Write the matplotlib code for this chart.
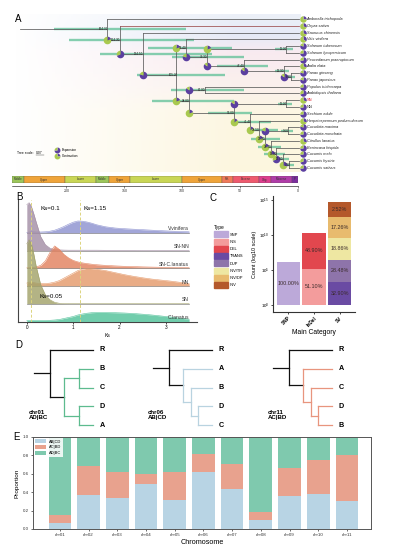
#!/usr/bin/env python
# -*- coding: utf-8 -*-
import sys

import numpy as np
import matplotlib
matplotlib.use('Agg')
import matplotlib.pyplot as plt
from matplotlib.patches import Patch
from matplotlib.ticker import NullLocator

plt.rcParams['font.family'] = ['Liberation Sans', 'DejaVu Sans']
plt.rcParams['axes.linewidth'] = 0.6

# ---------------------------------------------------------------- A: tree
tip_names = ['Amborella trichopoda', 'Oryza sativa', 'Saururus chinensis',
             'Vitis vinifera', 'Solanum tuberosum', 'Solanum lycopersicum',
             'Peucedanum praeruptorum', 'Aralia elata', 'Panax ginseng',
             'Panax japonicus', 'Populus trichocarpa', 'Arabidopsis thaliana',
             'SN', 'NN', 'Sechium edule', 'Herpetospermum pedunculosum',
             'Cucurbita maxima', 'Cucurbita moschata', 'Citrullus lanatus',
             'Benincasa hispida', 'Cucumis melo', 'Cucumis hystrix',
             'Cucumis sativus']
tip_expansion = [0.25, 0.3, 0.3, 0.35, 0.8, 0.75, 0.75, 0.3, 0.8, 0.8, 0.75,
                 0.7, 0.3, 0.75, 0.75, 0.3, 0.8, 0.75, 0.3, 0.75, 0.75, 0.7,
                 0.75]

# clades as (node, age in Mya, children)
panax = ('Pan', 6.9, ['Panax ginseng', 'Panax japonicus'])
apiales = ('A2', 47.4, ['Peucedanum praeruptorum',
                        ('ArPan', 12.9, ['Aralia elata', panax])])
asterids = ('A1', 79.3, [('Sol', 11.2, ['Solanum tuberosum',
                                        'Solanum lycopersicum']), apiales])
cucumis = ('C7', 13.8, ['Cucumis melo',
                        ('HS', 7.8, ['Cucumis hystrix', 'Cucumis sativus'])])
benincaseae = ('C5', 24.1, ['Citrullus lanatus',
                            ('C6', 19.0, ['Benincasa hispida', cucumis])])
core_cuc = ('C4', 29.3, [('Cuc', 9.5, ['Cucurbita maxima',
                                       'Cucurbita moschata']), benincaseae])
sicyoeae = ('C2', 41.4, ['Sechium edule',
                         ('C3', 34.5, ['Herpetospermum pedunculosum', core_cuc])])
cucurbits = ('C1', 56.0, [('SNNN', 11.2, ['SN', 'NN']), sicyoeae])
rosids = ('N6', 94.8, [('PopAra', 81.0, ['Populus trichocarpa',
                                         'Arabidopsis thaliana']), cucurbits])
eudicots = ('N4', 105.2, [('N5', 97.4, ['Vitis vinifera', asterids]), rosids])
species_tree = ('N1', 164.7, ['Amborella trichopoda',
                              ('N2', 154.3, ['Oryza sativa',
                                             ('N3', 134.5, ['Saururus chinensis',
                                                            eudicots])])])

node_hpd = {'N1': (211, 97), 'N2': (198, 90), 'N3': (171, 75), 'N4': (139, 63),
            'N5': (130, 57), 'A1': (109, 47), 'Sol': (20, 5), 'A2': (70, 26),
            'ArPan': (20, 8), 'Pan': (12, 3), 'N6': (126, 56), 'PopAra': (110, 47),
            'C1': (78, 40), 'SNNN': (18, 6), 'C2': (56, 24), 'C3': (44, 18),
            'Cuc': (15, 5), 'C4': (41, 16), 'C5': (35, 15), 'C6': (30, 12),
            'C7': (22, 8), 'HS': (12, 4)}
node_expansion = {'N2': 0.2, 'N3': 0.7, 'N4': 0.8, 'N5': 0.2, 'A1': 0.8,
                  'Sol': 0.2, 'A2': 0.85, 'ArPan': 0.85, 'Pan': 0.85, 'N6': 0.2,
                  'PopAra': 0.85, 'C1': 0.2, 'SNNN': 0.85, 'C2': 0.15, 'C3': 0.15,
                  'Cuc': 0.8, 'C4': 0.2, 'C5': 0.2, 'C6': 0.25, 'C7': 0.7,
                  'HS': 0.3}

epoch_names = ['Middle', 'Upper', 'Lower', 'Middle', 'Upper', 'Lower', 'Upper',
               'Pal.', 'Eocene', 'Olig.', 'Miocene', 'P']
epoch_bounds = [247, 237, 201.4, 174.1, 163.5, 145, 100.5, 66, 56, 33.9, 23,
                5.3, 0]
epoch_colors = ['#9CC65A', '#EFA43A', '#C9D655', '#9CC65A', '#EFA43A',
                '#C9D655', '#EFA43A', '#F07A5A', '#EE5A6E', '#DE3E8E',
                '#B03CA8', '#7C2E9E']
time_ticks = [200, 150, 100, 50, 0]

# ---------------------------------------------------------------- B: Ks
ks_grid = [0, 0.05, 0.1, 0.15, 0.2, 0.3, 0.4, 0.5, 0.6, 0.7, 0.8, 0.9, 1.0,
           1.1, 1.2, 1.3, 1.4, 1.5, 1.7, 1.9, 2.1, 2.3, 2.5, 2.7, 2.9, 3.1,
           3.3, 3.5]
ridge_names = ['V.vinifera', 'SN-NN', 'SN-C.lanatus', 'NN', 'SN', 'C.lanatus']
ridge_vinifera = [0.5, 1, 1.2, 1.2, 1, 1, 1.2, 1.8, 2.8, 4.5, 6.5, 8.8, 10.8,
                  12, 11.8, 11, 9.8, 8.3, 6.2, 5, 4.3, 3.8, 3.3, 2.8, 2.3, 1.9,
                  1.5, 1.2]
ridge_sn_nn = [46, 48, 44, 37, 29, 14, 6, 2.5, 1.2, 0.8, 0.6, 0.5, 0.5, 0.5,
               0.5, 0.5, 0.5, 0.5, 0.4, 0.4, 0.4, 0.4, 0.3, 0.3, 0.3, 0.3, 0.3,
               0.3]
ridge_sn_cl = [0.5, 0.6, 0.8, 1, 1.5, 3, 7.5, 16, 22.5, 19, 14, 10.5, 8, 6.5,
               5.5, 4.8, 4.2, 3.7, 3, 2.5, 2.1, 1.8, 1.5, 1.3, 1.1, 1, 0.8, 0.7]
ridge_nn = [3, 4, 4, 3.5, 3, 2.5, 2.5, 3, 4, 5.5, 8, 10.5, 13, 15.5, 17, 17.8,
            17.5, 17, 15.5, 13.5, 11.5, 9.8, 8.3, 7, 6, 5, 3.8, 2.5]
ridge_sn = [60, 64, 60, 50, 38, 19, 9, 4, 1.5, 0.5, 0.2, 0.1, 0.1, 0.1, 0.1,
            0.1, 0.1, 0.1, 0.1, 0.1, 0.1, 0.1, 0.1, 0.1, 0.1, 0.1, 0.1, 0.1]
ridge_cl = [1, 1, 1, 1, 1, 1, 1, 1.2, 1.5, 2, 3, 4, 5, 6.5, 7.5, 8.3, 8.8, 9,
            9, 8.8, 8.5, 8, 7.3, 6.5, 5.5, 4.5, 3.3, 2.3]
ridge_colors = ['#8E93D0', '#A48FA6', '#E2825F', '#E59A6B', '#A2A26A',
                '#52C29A']
ks_peaks = [0.1, 1.15]

# ---------------------------------------------------------------- C: variants
var_categories = ['SNP', 'InDel', 'SV']
category_totals = [1260000, 282000, 5800]
var_types = ['SNP', 'INS', 'DEL', 'TRANS', 'DUP', 'INV/TR', 'INV/DP', 'INV']
type_category = [0, 1, 1, 2, 2, 2, 2, 2]
type_percent = [100.00, 51.10, 48.90, 32.90, 28.48, 18.86, 17.26, 2.52]
type_colors = ['#BCA9D9', '#F39C9C', '#E2474E', '#6A4BA3', '#8E74AA',
               '#EEE7A2', '#E8BB6E', '#B4582B']

# ---------------------------------------------------------------- D: gene trees
tree_chr01 = ('r', 3, ['R', ('c', 2, [('x', 1, ['B', 'C']),
                                      ('y', 1, ['D', 'A'])])])
tree_chr06 = ('r', 3, ['R', ('c', 2, ['A', ('x', 1.5, ['B',
                                                       ('y', 1, ['D', 'C'])])])])
tree_chr11 = ('r', 3, ['R', ('c', 2, ['A', ('x', 1.5, ['C',
                                                       ('y', 1, ['D', 'B'])])])])
gene_trees = [('chr01', 'AD|BC', tree_chr01), ('chr06', 'AB|CD', tree_chr06),
              ('chr11', 'AC|BD', tree_chr11)]
gene_tree_colors = ['#5DBB8F', '#B9D3E0', '#E8957E']

# ---------------------------------------------------------------- E: topology
chromosomes = ['chr01', 'chr02', 'chr03', 'chr04', 'chr05', 'chr06', 'chr07',
               'chr08', 'chr09', 'chr10', 'chr11']
prop_ab_cd = [0.07, 0.37, 0.34, 0.49, 0.31, 0.62, 0.43, 0.10, 0.36, 0.38, 0.30]
prop_ac_bd = [0.08, 0.32, 0.28, 0.11, 0.31, 0.20, 0.28, 0.09, 0.30, 0.37, 0.50]
topology_labels = ['AB|CD', 'AC|BD', 'AD|BC']
topology_colors = ['#B8D4E4', '#E8A28E', '#7FC9AE']

EXP_COLOR = '#5B3FA0'
CON_COLOR = '#A9C94F'
W, H = 397, 546


def px_axes(fig, left, top, right, bottom):
    return fig.add_axes([left / W, 1 - bottom / H, (right - left) / W,
                         (bottom - top) / H])


def node_name(node):
    return node if isinstance(node, str) else node[0]


def layout(node, pos, counter):
    if isinstance(node, str):
        pos[node] = (0.0, float(counter[0]))
        counter[0] += 1
        return pos[node][1]
    name, age, kids = node
    ys = [layout(k, pos, counter) for k in kids]
    pos[name] = (age, float(np.mean(ys)))
    return pos[name][1]


def draw_edges(ax, node, pos, color_of, lw):
    if isinstance(node, str):
        return
    name, age, kids = node
    ys = [pos[node_name(k)][1] for k in kids]
    ax.plot([age, age], [min(ys), max(ys)], color=color_of(name, None),
            lw=lw, zorder=2, solid_capstyle='projecting')
    for k in kids:
        kx, ky = pos[node_name(k)]
        ax.plot([age, kx], [ky, ky], color=color_of(name, node_name(k)),
                lw=lw, zorder=2, solid_capstyle='projecting')
        draw_edges(ax, k, pos, color_of, lw)


def internal_nodes(node, parent=None):
    if isinstance(node, str):
        return []
    out = [(node[0], parent)]
    for k in node[2]:
        out += internal_nodes(k, node[0])
    return out


def pie(ax, x, y, frac, size, zorder=5):
    for a0, a1, c in ((0.0, frac, EXP_COLOR), (frac, 1.0, CON_COLOR)):
        if a1 - a0 < 1e-3:
            continue
        t = np.pi / 2 - 2 * np.pi * np.linspace(a0, a1, 40)
        verts = np.column_stack([np.r_[0, np.cos(t), 0], np.r_[0, np.sin(t), 0]])
        ax.scatter([x], [y], marker=verts, s=size * np.abs(verts).max() ** 2,
                   color=c, linewidths=0, zorder=zorder)


def panel_a(fig):
    px_per_my = 1.16
    ax = px_axes(fig, 12, 12, 397, 172)
    ax.set_xlim(247, 247 - 385 / px_per_my)
    ax.set_ylim(22.6, -1.03)
    ax.set_axis_off()

    # soft background wash
    stops_y = [-1, 2.5, 5, 10, 14, 23]
    stops_c = np.array([[0.91, 0.93, 0.97], [0.88, 0.90, 0.96],
                        [0.97, 0.90, 0.93], [0.98, 0.93, 0.91],
                        [0.99, 0.96, 0.86], [0.99, 0.96, 0.84]])
    ys = np.linspace(-0.6, 22.6, 120)
    xs = np.linspace(245, -2, 200)
    img = np.zeros((len(ys), len(xs), 4))
    for ch in range(3):
        img[:, :, ch] = np.interp(ys, stops_y, stops_c[:, ch])[:, None]
    img[:, :, 3] = (np.clip((245 - xs) / 190, 0, 1) * 0.8)[None, :]
    ax.imshow(img, extent=[245, -2, 22.6, -0.6], aspect='auto', zorder=0,
              interpolation='bilinear')

    pos = {}
    layout(species_tree, pos, [0])

    for name, (hi, lo) in node_hpd.items():
        ax.plot([hi, lo], [pos[name][1]] * 2, color='#5DC096', lw=1.7,
                alpha=0.75, solid_capstyle='butt', zorder=1)

    def color_of(parent, child):
        return '#9C4B4B' if child == 'Oryza sativa' else '#5a5a5a'

    root_age, root_y = pos['N1']
    ax.plot([240, root_age], [root_y, root_y], color='#5a5a5a', lw=0.55, zorder=2)
    draw_edges(ax, species_tree, pos, color_of, 0.55)

    for name, parent in internal_nodes(species_tree):
        age, y = pos[name]
        ax.text(age - 0.8, y, '%.2f' % age, fontsize=2.2, ha='right',
                va='center', color='#222222', zorder=6)
        if parent is not None:
            pie(ax, pos[parent][0], y, node_expansion[name], 30)

    for i, (name, frac) in enumerate(zip(tip_names, tip_expansion)):
        pie(ax, -3.5, i, frac, 22)
        is_sample = name in ('SN', 'NN')
        ax.text(-7, i, name, fontsize=2.8, va='center', ha='left',
                style='normal' if is_sample else 'italic',
                color='#E0202A' if name == 'SN' else '#222222')

    # geological time bar
    tb = px_axes(fig, 12, 176, 298, 183)
    tb.set_xlim(247, 0)
    tb.set_ylim(0, 1)
    for name, b0, b1, c in zip(epoch_names, epoch_bounds[:-1],
                               epoch_bounds[1:], epoch_colors):
        tb.bar((b0 + b1) / 2, 1, width=b0 - b1, bottom=0, color=c,
               edgecolor='#555555', lw=0.25)
        tb.text((b0 + b1) / 2, 0.5, name, fontsize=2.1, ha='center',
                va='center', color='#333333')
    tb.set_yticks([])
    for s in ('left', 'right', 'top'):
        tb.spines[s].set_visible(False)
    tb.spines['bottom'].set_position(('outward', 2.3))
    tb.spines['bottom'].set_linewidth(0.4)
    tb.set_xticks(time_ticks)
    tb.tick_params(axis='x', labelsize=2.6, length=1.5, width=0.4, pad=0.8,
                   colors='#333333')
    return ax


def panel_b(fig):
    ax = px_axes(fig, 18, 200, 197, 322)
    ax.set_xlim(-0.19, 3.67)
    ax.set_ylim(0, 122)
    spacing = 17.7
    ridges = [ridge_vinifera, ridge_sn_nn, ridge_sn_cl, ridge_nn, ridge_sn,
              ridge_cl]
    n = len(ridges)
    for i, (name, h, c) in enumerate(zip(ridge_names, ridges, ridge_colors)):
        base = (n - 1 - i) * spacing + 0.5
        top = base + np.array(h)
        ax.fill_between(ks_grid, base, top, color=c, alpha=0.82, lw=0,
                        zorder=2 + i)
        ax.plot(ks_grid, top, color=c, lw=0.4, zorder=2 + i)
        ax.plot([ks_grid[0], ks_grid[-1]], [base, base], color='#8a8a8a',
                lw=0.5, zorder=2 + i)
        ax.text(3.5, base + 4, name, fontsize=3.6, ha='right', va='center',
                color='#333333', zorder=20)
    for k in ks_peaks:
        ax.axvline(k, color='#DCD47E', lw=0.7, ls=(0, (3, 2)), zorder=15)
    ax.text(0.5, 113, 'Ks=0.1', fontsize=4.5, ha='center', va='center', zorder=20)
    ax.text(1.47, 113, 'Ks=1.15', fontsize=4.5, ha='center', va='center', zorder=20)
    ax.text(0.53, 26, 'Ks=0.05', fontsize=4.5, ha='center', va='center', zorder=20)
    for s in ('right', 'top'):
        ax.spines[s].set_visible(False)
    for s in ('left', 'bottom'):
        ax.spines[s].set_color('#444444')
        ax.spines[s].set_linewidth(0.8)
    ax.set_yticks([])
    ax.set_xticks([0, 1, 2, 3])
    ax.tick_params(axis='x', labelsize=3.3, length=1.5, width=0.5, pad=1)
    ax.set_xlabel('Ks', fontsize=3.6, labelpad=1.5)


def panel_c(fig):
    ax = px_axes(fig, 273, 196, 355, 312)
    ax.set_yscale('log')
    ax.set_xlim(-0.59, 2.59)
    ax.set_ylim(10 ** -1.0, 10 ** 15.57)
    cum = [0.0] * len(var_categories)
    for t, cat, pct, c in zip(var_types, type_category, type_percent,
                              type_colors):
        count = category_totals[cat] * pct / 100.0
        h = np.log10(count)
        bottom, top = 10 ** cum[cat], 10 ** (cum[cat] + h)
        ax.bar(cat, top - bottom, bottom=bottom, width=0.9, color=c, lw=0)
        ax.text(cat, 10 ** (cum[cat] + h / 2), '%.2f%%' % pct, fontsize=3.9,
                ha='center', va='center', color='#3a2a2a')
        cum[cat] += h
    ax.set_yticks([1, 1e5, 1e10, 1e15])
    ax.yaxis.set_minor_locator(NullLocator())
    ax.set_xticks(range(len(var_categories)))
    ax.set_xticklabels(var_categories, rotation=45, ha='right',
                       rotation_mode='anchor', fontweight='bold')
    ax.tick_params(axis='y', labelsize=3.2, length=1.5, width=0.5, pad=1)
    ax.tick_params(axis='x', labelsize=3.4, length=1.5, width=0.5, pad=1)
    for s in ('right', 'top'):
        ax.spines[s].set_visible(False)
    for s in ('left', 'bottom'):
        ax.spines[s].set_color('#333333')
        ax.spines[s].set_linewidth(0.8)
    ax.set_ylabel('Count (log10 scale)', fontsize=3.9, labelpad=1.5)
    ax.set_xlabel('Main Category', fontsize=4.9, labelpad=1)
    handles = [Patch(color=c) for c in type_colors]
    fig.legend(handles, var_types, title='Type', loc='upper left',
               bbox_to_anchor=(214 / W, 1 - 225 / H), frameon=False,
               fontsize=2.9, title_fontsize=3.5, handlelength=3.4,
               handleheight=1.9, labelspacing=0.32, borderaxespad=0,
               borderpad=0, handletextpad=0.5, alignment='left')


def panel_d(fig):
    unit = 14.33
    leaf_px = [93, 212, 332]
    for (chrom, split, tree), color, lx in zip(gene_trees, gene_tree_colors,
                                               leaf_px):
        ax = px_axes(fig, lx - 4.7 * unit, 340, lx + 1.4 * unit, 432)
        ax.set_xlim(4.7, -1.4)
        ax.set_ylim(4.36, -0.53)
        ax.set_axis_off()
        pos = {}
        layout(tree, pos, [0])

        def color_of(parent, child, root=tree[0], c=color):
            return '#111111' if parent == root else c

        root_age, root_y = pos[tree[0]]
        ax.plot([4.15, root_age], [root_y, root_y], color='#111111', lw=0.9,
                solid_capstyle='projecting')
        draw_edges(ax, tree, pos, color_of, 0.9)
        for leaf, (x, y) in pos.items():
            if len(leaf) == 1 and leaf.isupper():
                ax.text(-0.45, y, leaf, fontsize=5.2, fontweight='bold',
                        ha='left', va='center')
        ax.text(4.5, 3.45, chrom + '\n' + split, fontsize=4.4,
                fontweight='bold', ha='left', va='center', linespacing=1.05)


def panel_e(fig):
    ax = px_axes(fig, 33, 437, 371, 529)
    x = np.arange(len(chromosomes))
    ab = np.array(prop_ab_cd)
    ac = np.array(prop_ac_bd)
    ad = 1 - ab - ac
    bottom = np.zeros(len(x))
    for vals, c, lab in zip([ab, ac, ad], topology_colors, topology_labels):
        ax.bar(x, vals, bottom=bottom, width=0.79, color=c, lw=0, label=lab)
        bottom += vals
    ax.set_xlim(-0.94, 10.84)
    ax.set_ylim(0, 1)
    ax.set_xticks(x)
    ax.set_xticklabels(chromosomes)
    ax.set_yticks([0, 0.2, 0.4, 0.6, 0.8, 1.0])
    ax.set_yticklabels(['0.0', '0.2', '0.4', '0.6', '0.8', '1.0'])
    ax.tick_params(labelsize=3.2, length=1.5, width=0.5, pad=1.5,
                   colors='#333333')
    for s in ax.spines.values():
        s.set_color('#555555')
        s.set_linewidth(0.7)
    ax.set_ylabel('Proportion', fontsize=4.6, labelpad=2)
    ax.set_xlabel('Chromosome', fontsize=5.2, labelpad=1.5)
    ax.legend(loc='upper left', fontsize=2.9, handlelength=2.6,
              handleheight=1.1, labelspacing=0.35, borderpad=0.4,
              framealpha=0.85, edgecolor='none', fancybox=False,
              borderaxespad=0.2)


def main():
    fig = plt.figure(figsize=(W / 100, H / 100), dpi=100)
    panel_a(fig)
    panel_b(fig)
    panel_c(fig)
    panel_d(fig)
    panel_e(fig)

    # overlay in pixel units for panel letters and the tree legend
    ov = fig.add_axes([0, 0, 1, 1], zorder=30)
    ov.set_xlim(0, W)
    ov.set_ylim(H, 0)
    ov.set_axis_off()
    for letter, xp, yp in [('A', 18, 19), ('B', 19, 197), ('C', 213, 198),
                           ('D', 19, 345), ('E', 17, 437)]:
        ov.text(xp, yp, letter, fontsize=7, ha='center', va='center')
    ov.text(17, 153, 'Tree scale:', fontsize=2.4, va='center')
    ov.text(36, 152.5, '0.07', fontsize=2.4, va='center')
    ov.plot([35.5, 43.5], [154.5, 154.5], color='#333333', lw=0.3)
    pie(ov, 57, 150, 0.75, 18)
    pie(ov, 57, 156, 0.25, 18)
    ov.text(62, 150, 'Expansion', fontsize=2.3, va='center')
    ov.text(62, 156, 'Contraction', fontsize=2.3, va='center')

    fig.savefig('out.png', dpi=100)


if __name__ == '__main__':
    sys.exit(main())
